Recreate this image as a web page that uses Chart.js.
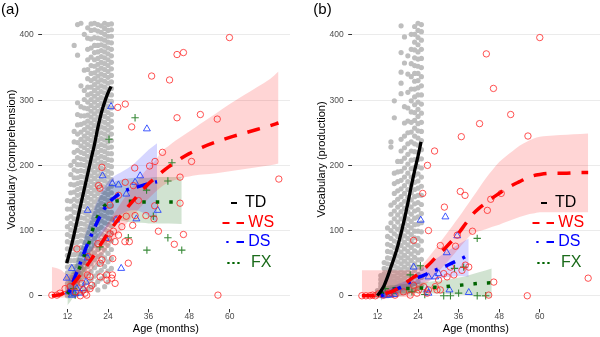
<!DOCTYPE html>
<html><head><meta charset="utf-8">
<script src="https://cdn.jsdelivr.net/npm/chart.js@4.4.1/dist/chart.umd.min.js"></script>
<style>
html,body{margin:0;padding:0;background:#fff;overflow:hidden;width:600px;height:337px;}
#wrap{position:relative;width:600px;height:337px;overflow:hidden;}
canvas{position:absolute;top:0;}
#ca{left:0;} #cb{left:310px;}
</style></head><body>
<div id="wrap"><canvas id="ca" width="300" height="337"></canvas><canvas id="cb" width="300" height="337"></canvas></div>
<script>
// ---------- axes ----------
const xTicks = [12, 24, 36, 48, 60];
const yTicks = [0, 100, 200, 300, 400];
const groupNames = ['TD', 'WS', 'DS', 'FX'];

// ---------- Panel (a): comprehension ----------
const tdCompAges = [12,13,14,15,16,17,18,19,20,21,22,23,24,25];
const tdCompVocab = [
 [0,6,12,19,27,35,44,53,62,72,83,94,106,119,133,146],
 [1,7,14,21,29,37,45,54,63,72,81,91,101,111,122,133,145,158,171,186,200],
 [0,5,12,20,28,36,45,54,63,72,81,90,99,108,118,128,138,148,159,170,181,193,206,220,236,252,384],
 [3,11,19,28,37,46,55,64,73,82,91,100,109,118,127,136,145,154,163,172,181,191,201,212,223,235,248,262,278,296,369,416],
 [5,14,24,34,44,54,64,74,84,93,102,111,120,129,138,147,156,165,174,183,192,201,210,220,230,240,251,263,276,290,322,418],
 [8,18,29,40,51,62,72,82,92,101,110,119,128,137,146,155,164,173,182,191,200,209,218,227,236,245,255,265,276,288,301,315,346,401],
 [10,21,33,45,57,68,78,88,97,106,115,124,133,142,151,160,169,178,187,196,205,214,223,232,241,250,259,268,277,287,297,308,320,333,347,362,378,395,411],
 [13,25,37,49,61,72,83,93,103,112,121,130,139,148,157,166,175,184,193,202,211,220,229,238,247,256,265,274,283,292,301,310,320,330,341,353,366,380,394,407,417],
 [17,30,43,55,66,77,88,98,108,117,126,135,144,153,162,171,180,189,198,207,216,225,234,243,252,261,270,279,288,297,306,315,324,333,342,352,362,373,384,396,408,418],
 [9,22,35,48,60,71,82,92,102,112,121,130,139,148,157,166,175,184,193,202,211,220,229,238,247,256,265,274,283,292,301,310,319,328,337,346,355,364,374,384,395,406,416],
 [26,39,51,63,74,85,95,105,115,124,133,142,151,160,169,178,187,196,205,214,223,232,241,250,259,268,277,286,295,304,313,322,331,340,349,358,367,376,385,394,404,414],
 [14,31,45,58,70,81,92,102,112,122,131,140,149,158,167,176,185,194,203,212,221,230,239,248,257,266,275,284,293,302,311,320,329,338,347,356,365,374,383,392,401,410,418],
 [21,38,52,65,77,88,99,109,119,128,137,146,155,164,173,182,191,200,209,218,227,236,245,254,263,272,281,290,299,308,317,326,335,344,353,362,371,380,389,398,407,416],
 [42,57,71,84,96,107,118,128,138,148,158,168,178,188,198,208,218,228,238,248,258,268,278,288,298,308,318,328,338,348,358,368,378,388,398,408,417]
];
const wsCompPoints = [[7.4,1],[8.9,1],[9.8,4],[11.3,11],[12.8,14],[14.3,6],[14.3,24],[15.8,0],[16.3,19],[17.2,4],[17.7,1],[16.7,9],[18.7,11],[19.2,16],[18.7,29],[17.9,32],[18.2,60],[14.8,72],[21.7,29],[21.7,50],[22.2,55],[23.6,32],[23.7,24],[25.1,27],[26.1,19],[25.3,32],[25.4,57],[24.1,88],[24.6,95],[26.1,83],[27.1,93],[21,80],[25.6,99],[26.6,118],[24.6,139],[27.1,154],[21.2,169],[21.6,165],[22.2,197],[28.1,106],[29,83],[30.3,83],[30,50],[31.3,108],[32,123],[29.4,122],[33,146],[31.5,169],[29.1,174],[31.9,196],[35.2,123],[37.6,118],[37.8,138],[38.9,99],[43.6,79],[46.3,94],[45.3,142],[45.3,182],[48.7,206],[36.3,199],[37.9,206],[40.1,220],[31,259],[26.9,289],[29.1,294],[36.9,337],[42.2,331],[44.4,370],[46.3,373],[44.4,273],[51.3,278],[56.3,271],[59.9,396],[56.5,1],[74.5,179]];
const dsCompPoints = [[11.8,27],[12.3,6],[13.3,42],[13.3,1],[14.8,11],[14.2,3],[15.8,4],[16.7,11],[17.5,21],[17.2,65],[17.9,58],[18,131],[22.4,184],[25.3,172],[27.1,170],[23.3,88],[26.4,116],[27.9,42],[32.4,118],[32,174],[33.5,184],[38.7,131],[29.4,156],[24.9,290],[35.5,256]];
const fxCompPoints = [[13.8,11],[14.3,1],[21.6,75],[24.3,240],[32,273],[30,89],[35.5,70],[35.4,162],[37.4,122],[41.7,89],[41.7,176],[42.9,204],[45.8,70]];

const tdCompFitAge = [11.8,13,14,15,16,17,18,19,20,21,22,23,24,24.9];
const tdCompFit = [50,73,95,118,141,164,187,210,232,258,280,297,311,321];
const wsCompFitAge = [7.4,10,12,14,16,18,20,22,24,26,28,30,32,34,36,38,40,42,44,46,48,50,52,56,60,64,68,72,74.4];
const wsCompFit = [0,2,8,20,33,48,63,80,96,110,124,137,149,161,172,181,190,198,205,212,218,223,228,236,243,249,255,261,265];
const wsCompUpper = [44,40,33,36,48,63,79,95,112,128,144,158,172,185,197,208,222,230,238,245,252,259,266,280,294,307,320,333,344];
const wsCompLower = [-3,-3,-2,6,18,31,45,60,74,88,101,114,126,138,149,159,168,174,178,181,183,185,186,188,191,194,197,200,203];
const dsCompFitAge = [12.5,13,14,15,16,17,18,19,20,21,22,23,24,25,26,27,28,29,30,32,34,36,38.5];
const dsCompFit = [5,12,26,39,53,67,80,92,104,115,125,134,141,147,151,155,158,161,163,166,169,172,175];
const dsCompUpper = [20,26,40,56,72,89,105,120,135,147,158,167,175,180,184,187,190,193,196,204,214,224,234];
const dsCompLower = [-5,-2,10,23,36,47,57,67,76,84,92,99,106,112,117,121,125,128,130,131,128,122,112];
const fxCompFitAge = [12,13,14,15,16,17,18,19,20,21,22,23,24,26,28,30,32,34,36,38,40,42,45.8];
const fxCompFit = [3,12,22,35,48,62,75,93,110,122,132,138,142,145,146,145,145,144,144,144,144,144,144];
const fxCompUpper = [22,33,45,59,73,88,103,118,132,145,155,162,168,175,178,180,181,181,181,182,182,182,182];
const fxCompLower = [-15,-8,0,12,25,36,48,62,78,90,100,106,110,114,115,113,112,112,111,111,111,111,110];

// ---------- Panel (b): production ----------
const tdProdAges = [12,13,14,15,16,17,18,19,20,21,22,23,24,25];
const tdProdVocab = [
 [0,1,3,5,8],
 [0,2,4,7,10,14,19,25,31],
 [0,2,5,8,12,16,21,27,34,42,51],
 [0,3,6,10,14,19,25,32,40,49,58,68,79,91,104],
 [1,4,8,13,18,24,31,39,48,57,67,77,88,100,112,125,139,228,236],
 [2,6,11,17,23,30,38,46,55,64,74,84,95,106,118,130,143,157,172,188,273,299],
 [3,8,14,20,27,35,43,52,61,71,81,91,102,113,124,136,148,161,175,190,206],
 [4,10,17,24,32,40,49,58,67,77,87,97,107,118,129,140,152,164,177,191,206,222,240,310,326,343,373,414],
 [5,12,19,27,35,44,53,62,72,82,92,102,112,123,134,145,157,169,182,196,211,227,245,265,290,357,397],
 [6,14,22,31,40,49,58,68,78,88,98,108,118,129,140,151,163,175,188,202,217,233,250,268,288,312,340,368],
 [8,16,25,34,44,54,64,74,84,94,104,114,125,136,147,158,170,182,195,208,222,236,251,266,282,299,317,336,356,378,401],
 [10,19,29,39,49,59,69,79,89,99,109,119,130,141,152,163,174,185,197,209,221,233,245,257,269,281,293,305,317,329,341,353,365,377,389,401,413],
 [12,22,33,44,55,66,77,88,99,110,121,132,143,154,165,176,187,198,209,220,231,242,253,264,275,286,297,308,319,330,341,352,363,374,385,396,407,418],
 [15,28,42,56,70,84,98,112,126,140,154,168,182,196,210,224,238,252,266,280,294,308,322,336,350,364,378,392,405,416]
];
const wsProdPoints = [[7.4,0],[8.6,0],[9.8,0],[10.6,1],[11.4,0],[12.3,3],[13.8,1],[15.3,4],[17.2,1],[19.7,6],[21.7,1],[22.7,16],[23.7,4],[24.2,9],[25.7,14],[26.7,4],[27.1,9],[29.1,14],[29.6,9],[30.6,9],[30.1,24],[31.6,34],[32.6,29],[34.6,32],[37,39],[38,47],[39,44],[33.6,44],[35.1,76],[30.6,77],[22.7,85],[27.1,100],[35.6,93],[40.1,99],[31.8,136],[25.4,157],[36.5,160],[37.9,154],[44.5,131],[45.5,148],[48.6,157],[46.4,21],[44.9,1],[56.3,0],[74.3,27],[26.8,200],[28.9,222],[36.8,244],[42.2,264],[51.4,278],[56.5,245],[46.3,318],[44.2,371],[60,396]];
const dsProdPoints = [[13.8,1],[14.8,1],[15.8,1],[17,2],[22.7,44],[24.8,116],[26.7,9],[27.1,4],[27.1,29],[29.1,29],[30.1,34],[32.1,121],[32.5,66],[35.6,92],[33.3,9],[39,5]];
const fxProdPoints = [[14.3,11],[16.5,4],[21.7,32],[22.2,6],[24.7,46],[26,2],[31.6,0],[33.6,0],[34.8,42],[36,4],[37.5,44],[41.5,88],[41.5,0],[44,0]];

const tdProdFitAge = [12,13,14,15,16,17,18,19,20,21,22,23,24,24.9];
const tdProdFit = [0,7,16,29,44,59,76,96,118,142,168,192,214,236];
const wsProdFitAge = [7.4,10,12,14,16,18,20,22,24,26,28,30,32,34,36,38,40,42,44,46,48,50,52,54,56,58,60,64,68,72,74.3];
const wsProdFit = [0,0,1,3,6,11,18,26,33,42,52,63,73,84,96,110,124,134,142,150,157,164,170,175,180,184,186,188,188,189,189];
const wsProdUpper = [39,39,39,39,39,39,39,39,42,52,65,78,92,106,120,135,150,165,180,193,205,214,222,230,236,241,244,246,247,248,249];
const wsProdLower = [-2,-2,-2,-2,-2,-2,-2,-2,8,16,26,37,48,60,72,84,95,99,102,106,109,113,117,121,124,126,128,128,128,128,128];
const dsProdFitAge = [13,14,15,16,17,18,19,20,21,22,23,24,26,28,30,32,34,36,38,39];
const dsProdFit = [0,2,4,6,9,11,13,16,19,22,25,28,32,37,41,45,50,55,60,64];
const dsProdUpper = [8,10,11,13,15,18,20,22,25,28,32,36,44,52,59,66,73,79,85,88];
const dsProdLower = [-6,-5,-3,-2,0,3,5,8,10,13,15,17,21,24,26,28,29,30,30,29];
const fxProdFitAge = [13,14,16,18,20,22,24,26,28,30,32,34,36,38,40,42,45.8];
const fxProdFit = [2,7,10,11,11,11,12,12,13,13,14,15,16,17,18,19,20];
const fxProdUpper = [12,14,16,17,18,19,20,21,22,23,24,26,28,30,33,36,42];
const fxProdLower = [-8,-2,3,4,4,4,4,4,4,3,3,2,2,1,0,-1,-3];

// ---------- styling ----------
const FONT = '"Liberation Sans", Arial, Helvetica, sans-serif';
const lineColors = {TD:'#000000', WS:'#FF0000', DS:'#0000FF', FX:'#006400'};
const legendTextColors = {TD:'#000000', WS:'#FF0000', DS:'#0000FF', FX:'#1B6B1B'};

function pts(ages, vals){ return ages.map((a,i)=>({x:a, y:vals[i]})); }
function cloud(ages, cols){ const out=[]; ages.forEach((a,i)=>cols[i].forEach(v=>out.push({x:a, y:v}))); return out; }
function pairs(arr){ return arr.map(p=>({x:p[0], y:p[1]})); }

function lineDs(data, color, width, dash, order){
  return {type:'line', data, borderColor:color, borderWidth:width, borderDash:dash, borderCapStyle:'butt',
    pointRadius:0, fill:false, cubicInterpolationMode:'monotone', order};
}
function ribbonDs(ages, up, lo, color, order){
  return [
    {type:'line', data:pts(ages, up), borderWidth:0, borderColor:'rgba(0,0,0,0)', pointRadius:0,
     fill:'+1', backgroundColor:color, cubicInterpolationMode:'monotone', order},
    {type:'line', data:pts(ages, lo), borderWidth:0, borderColor:'rgba(0,0,0,0)', pointRadius:0,
     fill:false, cubicInterpolationMode:'monotone', order}
  ];
}
function scatterDs(data, style, radius, color, width, order, fillColor){
  return {type:'scatter', data, pointStyle:style, pointRadius:radius, pointBorderColor:color,
    pointBackgroundColor:fillColor || 'rgba(0,0,0,0)', pointBorderWidth:width, order};
}

const overlay = {
  id:'overlay',
  afterDraw(chart, args, opts){
    const ctx = chart.ctx;
    ctx.save();
    ctx.textBaseline = 'middle'; ctx.textAlign = 'left';
    ctx.fillStyle = '#000'; ctx.font = '15px ' + FONT;
    ctx.fillText(opts.label, opts.labelX, 10);
    const keys = {
      TD: {y:203, text:245, segs:[[231,237]]},
      WS: {y:223, text:248.3, segs:[[222.5,229.5],[236.5,244]]},
      DS: {y:242, text:248.3, segs:[[226.3,228.6],[236.5,244]]},
      FX: {y:263, text:251, segs:[[227.3,229.6],[232.3,234.6],[237.3,239.6]]}
    };
    ctx.lineCap = 'butt';
    groupNames.forEach(g=>{
      const k = keys[g];
      ctx.strokeStyle = lineColors[g]; ctx.lineWidth = 2;
      k.segs.forEach(s=>{ ctx.beginPath(); ctx.moveTo(s[0], k.y); ctx.lineTo(s[1], k.y); ctx.stroke(); });
      ctx.fillStyle = legendTextColors[g]; ctx.font = '16px ' + FONT;
      ctx.fillText(g, k.text, k.y);
    });
    ctx.restore();
  }
};

function makeOptions(yTitle, label, labelX){
  return {
    responsive:false, animation:false, devicePixelRatio:1,
    layout:{padding:{top:9, right:10, bottom:0, left:0}},
    plugins:{legend:{display:false}, tooltip:{enabled:false}, overlay:{label, labelX}},
    scales:{
      x:{type:'linear', min:4.4, max:77.8,
        afterBuildTicks:s=>{ s.ticks = xTicks.map(v=>({value:v})); },
        afterFit:s=>{ s.height = 27.6; },
        grid:{drawOnChartArea:false, tickLength:3, tickColor:'#333', tickWidth:1},
        border:{display:false},
        ticks:{font:{size:8.5, family:FONT}, color:'#4D4D4D', padding:-1, maxRotation:0, autoSkip:false},
        title:{display:true, text:'Age (months)', font:{size:11, family:FONT}, color:'#000', padding:{top:0, bottom:1}}},
      y:{type:'linear', min:-20.9, max:438.9,
        afterBuildTicks:s=>{ s.ticks = yTicks.map(v=>({value:v})); },
        afterFit:s=>{ s.width = 41.7; },
        grid:{color:'#EBEBEB', lineWidth:1, tickLength:3.5, tickColor:'#333', tickWidth:1},
        border:{display:false},
        ticks:{font:{size:8.5, family:FONT}, color:'#4D4D4D', padding:4.5},
        title:{display:true, text:yTitle, font:{size:11, family:FONT}, color:'#000', padding:{top:5.4, bottom:0}}}
    }
  };
}

function buildDatasets(p){
  return [
    lineDs(pts(p.tdFitAge, p.tdFit), lineColors.TD, 3.3, [], 1),
    lineDs(pts(p.wsFitAge, p.wsFit), lineColors.WS, 3.5, [13,11], 1),
    lineDs(pts(p.dsFitAge, p.dsFit), lineColors.DS, 3.5, [3,8,11,8], 1),
    lineDs(pts(p.fxFitAge, p.fxFit), lineColors.FX, 3.5, [3.5,10], 1),
    scatterDs(pairs(p.ws), 'circle', 3.2, 'rgba(255,35,35,0.78)', 1, 3),
    scatterDs(pairs(p.ds), 'triangle', 4.0, 'rgba(30,60,255,0.85)', 1, 3),
    scatterDs(pairs(p.fx), 'cross', 3.7, 'rgba(35,125,35,0.9)', 1.1, 3),
    ...ribbonDs(p.wsFitAge, p.wsUp, p.wsLo, 'rgba(255,0,0,0.165)', 6),
    ...ribbonDs(p.dsFitAge, p.dsUp, p.dsLo, 'rgba(0,0,255,0.16)', 6),
    ...ribbonDs(p.fxFitAge, p.fxUp, p.fxLo, 'rgba(0,100,0,0.18)', 6),
    scatterDs(cloud(p.tdAges, p.tdVocab), 'circle', 2.6, 'rgba(0,0,0,0)', 0, 10, '#BEBEBE')
  ];
}

new Chart(document.getElementById('ca'), {
  type:'scatter',
  data:{datasets:buildDatasets({
    tdAges:tdCompAges, tdVocab:tdCompVocab, ws:wsCompPoints, ds:dsCompPoints, fx:fxCompPoints,
    tdFitAge:tdCompFitAge, tdFit:tdCompFit,
    wsFitAge:wsCompFitAge, wsFit:wsCompFit, wsUp:wsCompUpper, wsLo:wsCompLower,
    dsFitAge:dsCompFitAge, dsFit:dsCompFit, dsUp:dsCompUpper, dsLo:dsCompLower,
    fxFitAge:fxCompFitAge, fxFit:fxCompFit, fxUp:fxCompUpper, fxLo:fxCompLower})},
  options:makeOptions('Vocabulary (comprehension)', '(a)', 1),
  plugins:[overlay]
});
new Chart(document.getElementById('cb'), {
  type:'scatter',
  data:{datasets:buildDatasets({
    tdAges:tdProdAges, tdVocab:tdProdVocab, ws:wsProdPoints, ds:dsProdPoints, fx:fxProdPoints,
    tdFitAge:tdProdFitAge, tdFit:tdProdFit,
    wsFitAge:wsProdFitAge, wsFit:wsProdFit, wsUp:wsProdUpper, wsLo:wsProdLower,
    dsFitAge:dsProdFitAge, dsFit:dsProdFit, dsUp:dsProdUpper, dsLo:dsProdLower,
    fxFitAge:fxProdFitAge, fxFit:fxProdFit, fxUp:fxProdUpper, fxLo:fxProdLower})},
  options:makeOptions('Vocabulary (production)', '(b)', 3.3),
  plugins:[overlay]
});
</script>
</body></html>
